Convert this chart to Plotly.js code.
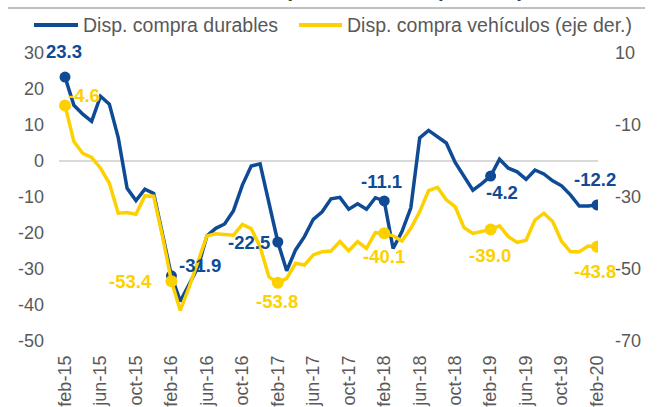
<!DOCTYPE html>
<html>
<head>
<meta charset="utf-8">
<script src="https://cdn.plot.ly/plotly-3.0.1.min.js"></script>
<style>
  html, body { margin: 0; padding: 0; background: #fff; }
  #chart { width: 657px; height: 407px; }
</style>
</head>
<body>
<div id="chart"></div>
<script>
// Months feb-15 .. feb-20
const months = [
  "feb-15","mar-15","abr-15","may-15","jun-15","jul-15","ago-15","sep-15","oct-15","nov-15","dic-15","ene-16",
  "feb-16","mar-16","abr-16","may-16","jun-16","jul-16","ago-16","sep-16","oct-16","nov-16","dic-16","ene-17",
  "feb-17","mar-17","abr-17","may-17","jun-17","jul-17","ago-17","sep-17","oct-17","nov-17","dic-17","ene-18",
  "feb-18","mar-18","abr-18","may-18","jun-18","jul-18","ago-18","sep-18","oct-18","nov-18","dic-18","ene-19",
  "feb-19","mar-19","abr-19","may-19","jun-19","jul-19","ago-19","sep-19","oct-19","nov-19","dic-19","ene-20",
  "feb-20"
];
// Disp. compra durables (left axis)
const durables = [
  23.3, 15.5, 13.0, 11.0, 18.0, 15.8, 6.5, -7.6, -11.0, -7.8, -9.0, -20.0,
  -31.9, -39.0, -34.5, -29.5, -20.8, -18.7, -17.5, -13.8, -6.7, -1.4, -0.8, -11.8,
  -22.5, -30.5, -24.7, -21.0, -16.2, -14.1, -10.5, -10.1, -13.4, -11.9, -13.4, -10.2,
  -11.1, -24.3, -19.6, -13.0, 6.4, 8.5, 6.6, 5.0, -0.4, -4.3, -8.1, -6.3,
  -4.2, 0.5, -2.0, -3.0, -5.1, -2.5, -3.6, -5.5, -6.9, -9.4, -12.5, -12.5,
  -12.2
];
// Disp. compra vehículos (right axis)
const vehiculos = [
  -4.6, -14.6, -17.9, -19.0, -22.0, -26.2, -34.5, -34.3, -34.8, -29.7, -29.8, -41.0,
  -53.4, -61.5, -55.0, -48.0, -40.8, -40.2, -40.3, -40.6, -37.6, -38.8, -43.8, -52.2,
  -53.8, -52.6, -48.4, -48.9, -46.1, -45.2, -45.0, -42.4, -44.9, -42.4, -44.3, -39.9,
  -40.1, -40.8, -42.2, -38.7, -34.1, -28.2, -27.3, -30.8, -32.7, -38.5, -40.1, -39.6,
  -39.0, -38.0, -41.0, -42.6, -42.0, -36.4, -34.5, -36.8, -42.3, -45.2, -45.2, -43.6,
  -43.8
];
const tickLabels = ["feb-15","jun-15","oct-15","feb-16","jun-16","oct-16","feb-17","jun-17","oct-17","feb-18","jun-18","oct-18","feb-19","jun-19","oct-19","feb-20"];
const leftTicks = [30, 20, 10, 0, -10, -20, -30, -40, -50];
const rightTicks = [10, -10, -30, -50, -70];
const markedIdx = [0, 12, 24, 36, 48, 60];
const seriesNames = ['Disp. compra durables', 'Disp. compra vehículos (eje der.)'];

const BLUE = '#0f4b95';
const YELLOW = '#fdd100';
const GREY = '#595959';
const FONT = 'Liberation Sans, Arial, sans-serif';

// plot area in pixels
const PL = 59, PR = 598, PT = 53, PB = 341;
const px = v => (v - PL) / (PR - PL);
const py = v => (PB - v) / (PB - PT);

const x = months.map((m, i) => i);
const tickvals = tickLabels.map(t => months.indexOf(t));

const traces = [
  {x: x, y: durables, type: 'scatter', mode: 'lines', name: seriesNames[0],
   line: {color: BLUE, width: 3.5}, yaxis: 'y'},
  {x: x, y: vehiculos, type: 'scatter', mode: 'lines', name: seriesNames[1],
   line: {color: YELLOW, width: 3.5}, yaxis: 'y2'},
  {x: markedIdx, y: markedIdx.map(i => durables[i]), type: 'scatter', mode: 'markers',
   marker: {color: BLUE, size: 11}, yaxis: 'y', hoverinfo: 'skip'},
  {x: markedIdx, y: markedIdx.map(i => vehiculos[i]), type: 'scatter', mode: 'markers',
   marker: {color: YELLOW, size: 12}, yaxis: 'y2', hoverinfo: 'skip'}
];

// label offsets (pixels) for data labels
const blueShift = [[-1, 26], [29, 10], [-29, 0], [-3, 19], [11, -16], [-2, 25]];
const yellowShift = [[19, 10], [-41, 0], [-1, -19], [0, -23], [-1, -26], [-2, -25]];

const annotations = [];
markedIdx.forEach((idx, k) => {
  annotations.push({x: idx, y: durables[idx], xref: 'x', yref: 'y', text: durables[idx].toFixed(1),
    showarrow: false, xshift: blueShift[k][0], yshift: blueShift[k][1],
    font: {family: FONT, size: 18.5, color: BLUE, weight: 'bold'}});
  annotations.push({x: idx, y: vehiculos[idx], xref: 'x', yref: 'y2', text: vehiculos[idx].toFixed(1),
    showarrow: false, xshift: yellowShift[k][0], yshift: yellowShift[k][1],
    font: {family: FONT, size: 18.5, color: YELLOW, weight: 'bold'}});
});
// cropped title at the very top (only its lowest part is visible)
annotations.push({x: px(404), y: py(0), xref: 'paper', yref: 'paper', xanchor: 'center', yanchor: 'bottom',
  text: '(balance de respuestas)', showarrow: false, yshift: -3,
  font: {family: FONT, size: 21, color: '#404040', weight: 'bold'}});
// legend texts
annotations.push({x: px(81), y: py(25), xref: 'paper', yref: 'paper', xanchor: 'left', yanchor: 'middle',
  text: seriesNames[0], showarrow: false, font: {family: FONT, size: 19.5, color: GREY}});
annotations.push({x: px(345), y: py(25), xref: 'paper', yref: 'paper', xanchor: 'left', yanchor: 'middle',
  text: seriesNames[1], showarrow: false, font: {family: FONT, size: 19.5, color: GREY}});

const layout = {
  width: 657, height: 407,
  margin: {l: PL, r: 657 - PR, t: PT, b: 407 - PB, pad: 0},
  paper_bgcolor: '#fff', plot_bgcolor: '#fff',
  font: {family: FONT, size: 18, color: GREY},
  showlegend: false,
  xaxis: {range: [-0.68, 60.11], tickmode: 'array', tickvals: tickvals, ticktext: tickLabels,
    tickangle: -90, showgrid: false, zeroline: false, showline: false, ticks: '',
    ticklabelstandoff: 10, tickfont: {family: FONT, size: 18, color: GREY}},
  yaxis: {range: [-50, 30], tickmode: 'array', tickvals: leftTicks, ticktext: leftTicks.map(String),
    showgrid: false, zeroline: true,
    zerolinecolor: '#d9d9d9', zerolinewidth: 2, showline: false, ticks: '',
    ticklabelstandoff: 14, tickfont: {family: FONT, size: 18, color: GREY}},
  yaxis2: {range: [-70, 10], tickmode: 'array', tickvals: rightTicks, ticktext: rightTicks.map(String),
    overlaying: 'y', side: 'right',
    showgrid: false, zeroline: false, showline: false, ticks: '',
    ticklabelstandoff: 16, tickfont: {family: FONT, size: 18, color: GREY}},
  shapes: [
    {type: 'line', xref: 'paper', yref: 'paper', x0: px(8), x1: px(645), y0: py(8), y1: py(8),
     line: {color: '#c0c0c0', width: 2}},
    {type: 'line', xref: 'paper', yref: 'paper', x0: px(34), x1: px(78), y0: py(25), y1: py(25),
     line: {color: BLUE, width: 4}},
    {type: 'line', xref: 'paper', yref: 'paper', x0: px(299), x1: px(342), y0: py(25), y1: py(25),
     line: {color: YELLOW, width: 4}}
  ],
  annotations: annotations
};

Plotly.newPlot('chart', traces, layout, {staticPlot: true, displayModeBar: false});
</script>
</body>
</html>
